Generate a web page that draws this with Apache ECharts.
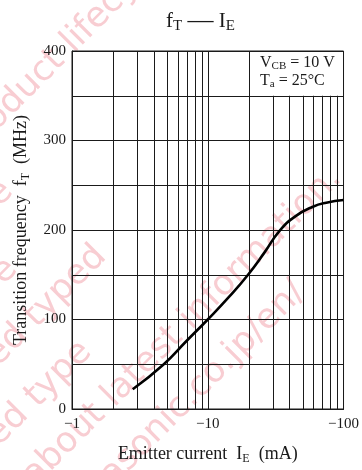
<!DOCTYPE html>
<html>
<head>
<meta charset="utf-8">
<script src="https://cdn.jsdelivr.net/npm/echarts@6/dist/echarts.min.js"></script>
<style>
  html, body { margin: 0; background: #fff; }
  #chart { width: 362px; height: 470px; }
</style>
</head>
<body>
<div id="chart"></div>
<script>
// f_T vs I_E curve (I_E shown as negative mA)
const emitterCurrent = [2.8, 4.7, 6.97, 10, 14.5, 19.8, 26.2, 33.8, 44.4, 59.5, 74.6, 100]
const transitionFreq = [22, 49.5, 76, 100, 126, 150, 175, 199, 215.5, 226, 230.5, 233.5]

const xRange = [1, 100]
const minorX = [2, 3, 4, 5, 6, 7, 8, 9, 20, 30, 40, 50, 60, 70, 80, 90]
const yRange = [0, 400]
const yStep = 50
const yLabelStep = 100
// condition box occupies I_E >= 20 and f_T >= 350
const boxFrom = [20, 350]

const SERIF = '"Liberation Serif", "Times New Roman", serif'
const INK = '#1a1a1a'

// faint diagonal notice printed across the datasheet (local coords along / across the text)
const watermark = [
  { text: 'includes following four Product lifecycle stage.', align: 'left', x: -536, y: 81 },
  { text: 'Planed maintenance type', align: 'right', x: -126, y: 137 },
  { text: 'Maintenance type', align: 'right', x: -178, y: 195 },
  { text: 'Planed discontinued typed', align: 'right', x: -106, y: 249 },
  { text: 'Discontinued type', align: 'right', x: -184, y: 306 },
  { text: 'Please visit following URL about latest information.', align: 'right', x: 115, y: 360 },
  { text: 'http://www.semicon.panasonic.co.jp/en/', align: 'right', x: 9, y: 415 },
]

const chart = echarts.init(document.getElementById('chart'))

const mainRich = {
  m: { fontFamily: SERIF, fontSize: 18, lineHeight: 22, color: INK, fontWeight: 'normal', verticalAlign: 'middle' },
  s: { fontFamily: SERIF, fontSize: 12, lineHeight: 12, color: INK, fontWeight: 'normal', verticalAlign: 'bottom' },
}

chart.setOption({
  backgroundColor: '#fff',
  animation: false,
  title: {
    left: 166,
    top: 8,
    padding: 0,
    text: '{m|f}{s|T}{m| }{d|—}{m| I}{s|E}',
    textStyle: {
      fontWeight: 'normal',
      rich: {
        m: { fontFamily: SERIF, fontSize: 21, lineHeight: 26, color: INK, fontWeight: 'normal', verticalAlign: 'middle' },
        s: { fontFamily: SERIF, fontSize: 15, lineHeight: 15, color: INK, fontWeight: 'normal', verticalAlign: 'bottom' },
        d: { fontFamily: SERIF, fontSize: 26, lineHeight: 20, color: INK, fontWeight: 'normal', verticalAlign: 'top' },
      },
    },
  },
  grid: {
    left: 72, right: 18, top: 51, bottom: 53,
    show: true, borderColor: INK, borderWidth: 1,
  },
  xAxis: {
    type: 'log',
    logBase: 10,
    min: xRange[0],
    max: xRange[1],
    name: '{m|Emitter current  I}{s|E}{m|  (mA)}',
    nameLocation: 'middle',
    nameGap: 34,
    nameTextStyle: { rich: mainRich },
    axisLine: { show: true, lineStyle: { color: INK, width: 1 } },
    axisTick: { show: false },
    minorTick: { show: false },
    axisLabel: {
      margin: 8,
      fontFamily: SERIF,
      fontSize: 15,
      color: INK,
      formatter: (v) => '\u2212' + v,
    },
    splitLine: { show: true, lineStyle: { color: INK, width: 1 } },
  },
  yAxis: {
    type: 'value',
    min: yRange[0],
    max: yRange[1],
    interval: yStep,
    name: '{m|Transition frequency  f}{s|T}{m|  (MHz)}',
    nameLocation: 'middle',
    nameGap: 40,
    nameTextStyle: { rich: mainRich },
    axisLine: { show: true, lineStyle: { color: INK, width: 1 } },
    axisTick: { show: false },
    axisLabel: {
      margin: 6,
      fontFamily: SERIF,
      fontSize: 15,
      color: INK,
      formatter: (v) => (v % yLabelStep === 0 ? String(v) : ''),
    },
    splitLine: { show: true, lineStyle: { color: INK, width: 1 } },
  },
  graphic: [
    {
      type: 'group',
      x: 0,
      y: 0,
      rotation: Math.PI / 4,
      z: -10,
      silent: true,
      children: watermark.map((w) => ({
        type: 'text',
        x: w.x,
        y: w.y,
        z: -10,
        style: {
          text: w.text,
          fill: '#f8cdd2',
          font: '35px "DejaVu Sans", sans-serif',
          textAlign: w.align,
          textVerticalAlign: 'middle',
        },
      })),
    },
    {
      type: 'text',
      left: 260,
      top: 55,
      z: 50,
      style: {
        text: '{m|V}{s|CB}{m| = 10 V}\n{m|T}{s|a}{m| = 25°C}',
        rich: {
          m: { fontFamily: SERIF, fontSize: 16, lineHeight: 18, fill: INK, verticalAlign: 'middle' },
          s: { fontFamily: SERIF, fontSize: 11, lineHeight: 11, fill: INK, verticalAlign: 'bottom' },
        },
      },
    },
  ],
  series: [
    {
      // minor log grid lines; those under the condition box stop at its lower edge
      type: 'custom',
      silent: true,
      z: 1,
      data: minorX.map((x) => [x, x > boxFrom[0] ? boxFrom[1] : yRange[1]]),
      encode: { x: 0, y: 1 },
      renderItem: (params, api) => {
        const p0 = api.coord([api.value(0), yRange[0]])
        const p1 = api.coord([api.value(0), api.value(1)])
        const px = Math.round(p0[0]) + 0.5
        return {
          type: 'line',
          shape: { x1: px, y1: p0[1], x2: px, y2: p1[1] },
          style: { stroke: INK, lineWidth: 1 },
        }
      },
    },
    {
      type: 'line',
      z: 3,
      data: emitterCurrent.map((x, i) => [x, transitionFreq[i]]),
      smooth: 0.5,
      showSymbol: false,
      symbol: 'none',
      lineStyle: { color: '#000', width: 2.6 },
    },
  ],
})
</script>
</body>
</html>
